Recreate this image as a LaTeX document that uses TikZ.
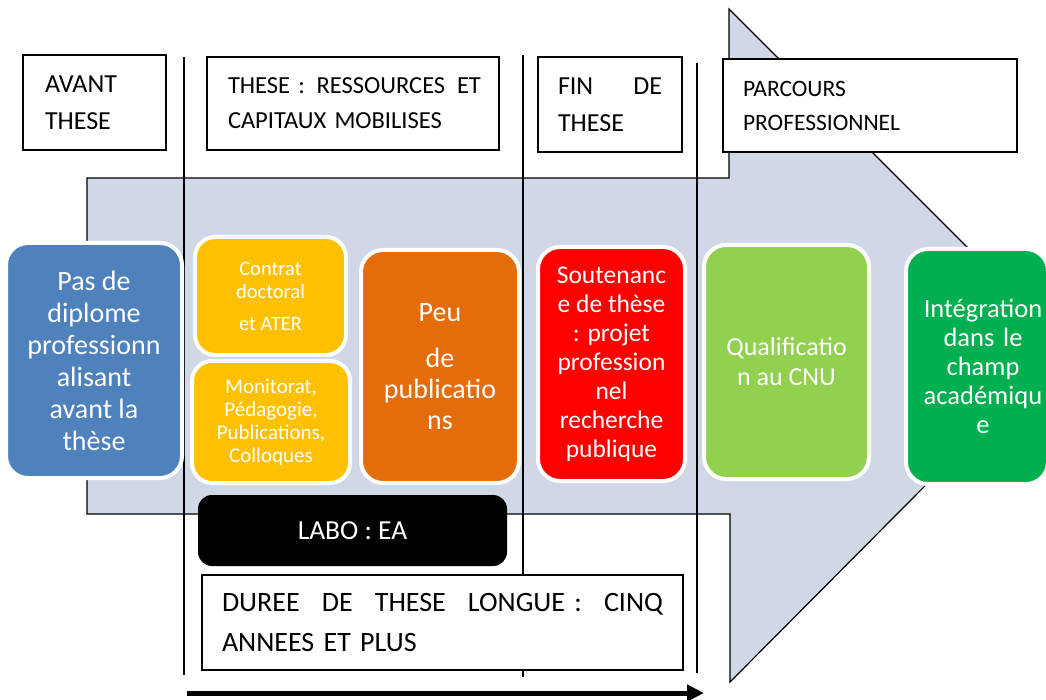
\documentclass[tikz,border=0pt]{standalone}
\usepackage{fontspec}
\setmainfont{Carlito}
\usetikzlibrary{arrows.meta}
\definecolor{arrowfill}{HTML}{D0D8E8}
\definecolor{cblue}{HTML}{4F81BD}
\definecolor{cyellow}{HTML}{FFC000}
\definecolor{corange}{HTML}{E46C0A}
\definecolor{cred}{HTML}{FF0000}
\definecolor{clgreen}{HTML}{92D050}
\definecolor{cgreen}{HTML}{00B050}
\tikzset{
  hdr/.style={draw=black, line width=1.1pt, fill=white, rectangle, align=left, inner ysep=0pt},
  card/.style={rectangle, rounded corners=22pt, draw=white, line width=4pt, text=white, align=center, inner sep=0pt},
  vline/.style={draw=black, line width=1.3pt},
}
\begin{document}
\begin{tikzpicture}[x=1pt,y=-1pt]
\useasboundingbox (0,0) rectangle (1046,700);
% big arrow
\draw[fill=arrowfill, line width=1.2pt, line join=miter]
  (87,178) -- (729,178) -- (729,9) -- (1065,345) -- (730,682) -- (730,514) -- (87,514) -- cycle;
% vertical lines
\coordinate (l1t) at (184,57); \coordinate (l1b) at (184,675);
\coordinate (l2t) at (523,55); \coordinate (l2b) at (523,677);
\coordinate (l3t) at (697,63); \coordinate (l3b) at (697,673);
\draw[vline] (l1t) -- (l1b);
\draw[vline] (l2t) -- (l2b);
\draw[vline] (l3t) -- (l3b);
% headers
\node[hdr, text width=99pt, inner xsep=22pt, minimum height=95pt, font=\fontsize{26}{37}\selectfont] (avant) at (94.5,102.5) {AVANT\\THESE};
\node[hdr, text width=256pt, inner xsep=18pt, minimum height=93pt, font=\fontsize{24.5}{35}\selectfont] (these) at (353,103.5) {\hspace*{3pt}THESE :\hfill RESSOURCES\hfill ET\\\hspace*{3pt}CAPITAUX MOBILISES};
\node[hdr, text width=104pt, inner xsep=20pt, minimum height=95pt, font=\fontsize{26}{37}\selectfont] (fin) at (610,104.5) {FIN\hfill DE\\THESE};
\node[hdr, text width=254pt, inner xsep=20pt, minimum height=93pt, font=\fontsize{23.5}{34}\selectfont] (parc) at (870,105.5) {PARCOURS\\PROFESSIONNEL};
% cards
\node[card, fill=cblue, minimum width=176pt, minimum height=235pt, font=\fontsize{28}{32}\selectfont] (blue) at (94,360.5) {Pas de\\diplome\\professionn\\alisant\\avant la\\thèse};
\node[card, fill=cyellow, rounded corners=20pt, minimum width=151pt, minimum height=118pt, font=\fontsize{20.5}{23}\selectfont] (ytop) at (270.5,296) {Contrat\\doctoral\\[9pt]et ATER};
\node[card, fill=cyellow, rounded corners=20pt, minimum width=158pt, minimum height=122pt, font=\fontsize{21}{23}\selectfont] (ybot) at (271,422) {Monitorat,\\Pédagogie,\\Publications,\\Colloques};
\node[card, fill=corange, minimum width=158pt, minimum height=233pt, font=\fontsize{28}{31}\selectfont] (orange) at (440,366.5) {Peu\\[15pt]de\\publicatio\\ns};
\node[card, fill=cred, minimum width=147pt, minimum height=234pt, font=\fontsize{25.5}{29}\selectfont] (red) at (611.5,364) {Soutenanc\\e de thèse\\: projet\\profession\\nel\\recherche\\publique};
\node[card, fill=clgreen, minimum width=165pt, minimum height=234pt, font=\fontsize{26}{30}\selectfont] (lgreen) at (786.5,362) {Qualificatio\\n au CNU};
\node[card, fill=cgreen, minimum width=142pt, minimum height=235pt, text width=132pt, font=\fontsize{26.5}{29}\selectfont] (green) at (977,366.5) {\hspace*{12pt}Intégration\\\hspace*{12pt}dans le\\\hspace*{12pt}champ\\\hspace*{12pt}académiqu\\\hspace*{12pt}e};
% labo
\node[rectangle, rounded corners=14pt, fill=black, text=white, minimum width=309pt, minimum height=71pt, inner sep=0pt, font=\fontsize{27.5}{30}\selectfont] (labo) at (352.5,530.5) {LABO : EA};
% duree
\node[hdr, text width=441pt, inner xsep=20pt, minimum height=95pt, font=\fontsize{28}{40}\selectfont] (duree) at (442.5,622.5) {DUREE\hfill DE\hfill THESE\hfill LONGUE :\hfill CINQ\\ANNEES ET PLUS};
% time arrow
\coordinate (ta) at (187,693);
\coordinate (tb) at (704,693);
\draw[line width=5pt, -{Triangle[length=17pt,width=16pt]}] (ta) -- (tb);
\end{tikzpicture}
\end{document}
